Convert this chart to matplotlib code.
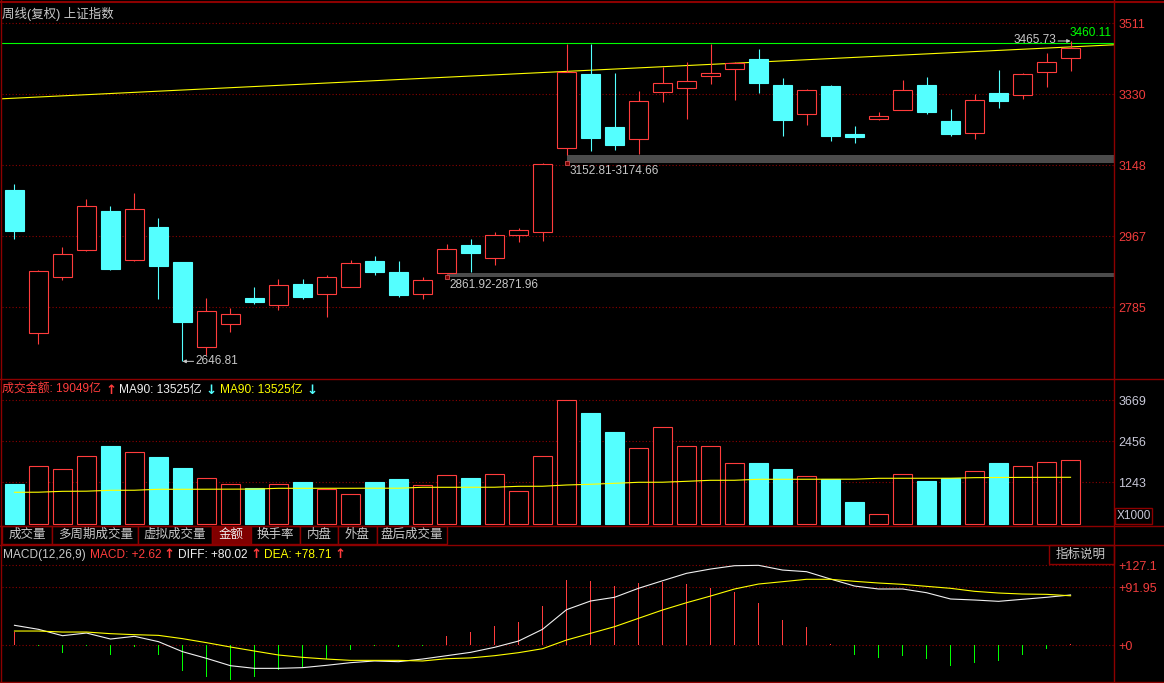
#!/usr/bin/env python3
"""
Weekly K-line of the Shanghai Composite (上证指数), terminal style:
candles + unfilled gap bands, turnover bars with MA90, and MACD(12,26,9).

Output: out.png (1164x683)
"""

import matplotlib
matplotlib.use('Agg')
import matplotlib.pyplot as plt
from matplotlib.patches import Rectangle
from matplotlib.lines import Line2D
import numpy as np

# ---------------------------------------------------------------------------
# Data (weekly bars, oldest first)
# ---------------------------------------------------------------------------
OPEN = [3085, 2720, 2863, 2931, 3031, 2905, 2990, 2901, 2683, 2743,
        2809, 2790, 2845, 2818, 2836, 2903, 2875, 2820, 2872, 2944,
        2912, 2971, 2977, 3191, 3381, 3246, 3215, 3336, 3346, 3377,
        3395, 3420, 3353, 3280, 3351, 3228, 3267, 3290, 3353, 3261,
        3231, 3333, 3328, 3387, 3423]
HIGH = [3100, 2881, 2939, 3062, 3044, 3077, 3013, 2901, 2809, 2783,
        2837, 2857, 2857, 2868, 2906, 2916, 2903, 2861.92, 2947, 2960,
        2978, 2988, 3152.81, 3458, 3458, 3384, 3338, 3398, 3412, 3458,
        3412, 3445, 3371, 3344, 3353, 3248, 3284, 3366, 3374, 3292,
        3330, 3392, 3384, 3435, 3465.73]
LOW = [2960, 2690, 2856, 2930, 2881, 2904, 2805, 2646.81, 2663, 2723,
       2794, 2779, 2807, 2761, 2836, 2868, 2812, 2807, 2871.96, 2875,
       2894, 2953, 2955, 3174.66, 3185, 3188, 3177, 3311, 3267, 3357,
       3316, 3334, 3224, 3252, 3211, 3206, 3265, 3290, 3280, 3224,
       3214, 3295, 3318, 3349, 3390]
CLOSE = [2981, 2878, 2921, 3044, 2884, 3036, 2891, 2748, 2775, 2767,
         2799, 2841, 2812, 2862, 2898, 2874, 2817, 2855, 2934, 2925,
         2969, 2982, 3152, 3386, 3219, 3201, 3312, 3358, 3363, 3383,
         3409, 3359, 3265, 3340, 3224, 3221, 3273, 3340, 3283, 3229,
         3315, 3313, 3381, 3412, 3447]

TREND_LINE = [3318, 3456]        # yellow trend line, left edge -> right edge
LAST_PRICE = 3460.11             # green horizontal line

# turnover (x1000) and its MA90
TURNOVER = [1192, 1725, 1627, 2021, 2317, 2130, 1991, 1666, 1361, 1184,
            1065, 1184, 1252, 1036, 888, 1252, 1340, 1154, 1450, 1370,
            1480, 976, 2012, 3669, 3293, 2731, 2249, 2870, 2308, 2308,
            1805, 1814, 1636, 1429, 1332, 660, 305, 1488, 1281, 1361,
            1568, 1814, 1725, 1835, 1905]
TURNOVER_MA = [947, 950, 976, 980, 1006, 1008, 1036, 1036, 1038, 1040,
               1042, 1065, 1065, 1066, 1066, 1068, 1068, 1095, 1095, 1096,
               1097, 1124, 1126, 1163, 1184, 1213, 1243, 1245, 1272, 1302,
               1303, 1332, 1332, 1333, 1334, 1335, 1361, 1362, 1362, 1363,
               1380, 1385, 1388, 1390, 1391]

# MACD(12,26,9)
DIFF = [31.8, 25.4, 15.3, 19.5, 10, 14.3, 5.8, -10.1, -20.7, -32.4,
        -36.6, -36.6, -35.5, -31.8, -27.6, -24.9, -26, -21.8, -16.5, -11.2,
        -3.2, 6.8, 25.4, 56.6, 70.4, 76.3, 90.6, 102.6, 114.4, 121.2,
        126.5, 127.1, 119.6, 117, 105.3, 94.2, 89.5, 89.5, 83.6, 73.6,
        72, 69.9, 73.1, 76.3, 80.02]
DEA = [22.7, 22.7, 21.1, 21.1, 18.5, 16.9, 15.8, 10.6, 4.2, -2.7,
       -9.1, -15.4, -19.1, -21.8, -23.9, -23.9, -23.9, -24.9, -21.3, -20,
       -16.5, -11.7, -5.4, 8.4, 19, 29.6, 42.9, 56.1, 67.7, 78.3,
       89.5, 97.4, 101.1, 104.9, 104.9, 101.7, 99, 96.9, 93.7, 90.6,
       85.8, 83.1, 81.5, 81, 78.71]
MACD = [21.6, -1.5, -12.2, -1.5, -14.9, -2.6, -14.9, -40.3, -49.9, -55.1,
        -49.9, -39.2, -34, -21.8, -7.5, -1.5, -3, -1.5, 14.8, 21.1,
        30.7, 37, 62.4, 103.7, 102.2, 94.2, 99, 101.1, 97.4, 91.5,
        85.2, 67.7, 40.2, 29.1, 2, -15.4, -19.7, -16.5, -21.3, -32.9,
        -28.1, -24.9, -15.4, -5.9, 2.62]

PRICE_TICKS = [2785, 2967, 3148, 3330, 3511]
TURNOVER_TICKS = [1243, 2456, 3669]
MACD_TICKS = [0, 91.95, 127.1]
MACD_TICK_LABELS = ['+0', '+91.95', '+127.1']

TABS = ['成交量', '多周期成交量', '虚拟成交量', '金额', '换手率', '内盘', '外盘', '盘后成交量']

# ---------------------------------------------------------------------------
# Style
# ---------------------------------------------------------------------------
W, H = 1164, 683
BG = '#000000'
RED = '#ff3c3c'
CYAN = '#54ffff'
GRID = '#8c0000'
BORDER = '#8c0000'
YELLOW = '#ffff00'
GREEN = '#00ff00'
TEXT = '#c8c8c8'
WHITE = '#f0f0f0'
AXIS_RED = '#f03c3c'
BAND = '#4b4b4b'
TAB_ACTIVE = '#800000'
LW = 0.8
BW = 0.78          # body / bar width in bar units
FS = 9
HFS = 8.6          # header line font size
PX = 1 / 24        # one pixel in bar units

plt.rcParams['font.family'] = ['Liberation Sans', 'Noto Sans CJK SC', 'DejaVu Sans']


def fx(x):
    return x / W


def fy(y):
    return 1 - y / H


def panel(fig, y0, y1, ylim, ticks, labels, label_color):
    ax = fig.add_axes([fx(2), fy(y1), fx(1112), (y1 - y0) / H])
    ax.set_facecolor(BG)
    ax.set_xlim(-0.52, 45.81)
    ax.set_ylim(*ylim)
    for s in ax.spines.values():
        s.set_visible(False)
    ax.set_xticks([])
    ax.yaxis.tick_right()
    ax.set_yticks(ticks)
    ax.set_yticklabels(labels)
    ax.tick_params(axis='y', length=0, pad=3, labelsize=FS, labelcolor=label_color)
    for t in ticks:
        ax.axhline(t, color=GRID, lw=LW, ls=(0, (1, 2)), zorder=0)
    return ax


def header(fig, y, parts):
    """Header line made of coloured pieces; arrows drawn as bold glyphs."""
    for x, s, col in parts:
        if s in ('↑', '↓'):
            fig.text(fx(x), fy(y), s, fontsize=9.5, color=col, ha='left',
                     va='center', family=['DejaVu Sans'], fontweight='bold')
        else:
            fig.text(fx(x), fy(y), s, fontsize=HFS, color=col,
                     ha='left', va='center')


def fig_hline(fig, y, x0=0, x1=W, lw=1.0, color=BORDER):
    fig.add_artist(Line2D([fx(x0), fx(x1)], [fy(y), fy(y)], color=color, lw=lw))


def fig_vline(fig, x, y0, y1, lw=1.0, color=BORDER):
    fig.add_artist(Line2D([fx(x), fx(x)], [fy(y0), fy(y1)], color=color, lw=lw))


def main():
    idx = np.arange(len(OPEN))
    fig = plt.figure(figsize=(W / 100, H / 100), dpi=100, facecolor=BG)

    # -----------------------------------------------------------------------
    # Price panel
    # -----------------------------------------------------------------------
    ax = panel(fig, 2, 379.5, (2600.4, 3565.4), PRICE_TICKS,
               [str(t) for t in PRICE_TICKS], AXIS_RED)

    # upward gaps that no later bar has filled
    xr = ax.get_xlim()[1]
    for k in range(1, len(OPEN)):
        lo, hi = HIGH[k - 1], min(LOW[k:])
        if hi > lo and LOW[k] > HIGH[k - 1]:
            ax.add_patch(Rectangle((k, lo), xr - k, hi - lo, facecolor=BAND,
                                   edgecolor='none', zorder=1))
            ax.plot([k], [lo], marker='s', ms=2.5, mfc='#800000',
                    mec='#d05050', mew=0.6, zorder=5)
            ax.annotate(f'{lo:.2f}-{hi:.2f}', xy=(k, lo), xytext=(2, -1),
                        textcoords='offset points', ha='left', va='top',
                        fontsize=8.5, color=TEXT, zorder=5)

    ax.plot(ax.get_xlim(), TREND_LINE, color=YELLOW, lw=LW, zorder=2)
    ax.axhline(LAST_PRICE, color=GREEN, lw=LW, zorder=2)
    ax.annotate(f'{LAST_PRICE:.2f}', xy=(1.0, LAST_PRICE),
                xycoords=('axes fraction', 'data'), xytext=(-1.5, 3),
                textcoords='offset points', ha='right', va='bottom',
                fontsize=8.5, color=GREEN)

    for i in idx:
        o, h, l, c = OPEN[i], HIGH[i], LOW[i], CLOSE[i]
        if c >= o:
            ax.vlines(i, c, h, color=RED, lw=LW, zorder=3)
            ax.vlines(i, l, o, color=RED, lw=LW, zorder=3)
            ax.add_patch(Rectangle((i - BW / 2, o), BW, max(c - o, 1.5),
                                   facecolor=BG, edgecolor=RED, lw=LW, zorder=3))
        else:
            ax.vlines(i, l, h, color=CYAN, lw=LW, zorder=3)
            ax.add_patch(Rectangle((i - BW / 2, c), BW, o - c, facecolor=CYAN,
                                   edgecolor=CYAN, lw=LW, zorder=3))

    # extreme marks
    i_hi = int(np.argmax(HIGH))
    ax.annotate('', xy=(i_hi, HIGH[i_hi]), xytext=(-9, 0),
                textcoords='offset points',
                arrowprops=dict(arrowstyle='-|>', color=TEXT, lw=0.7,
                                mutation_scale=5, shrinkA=0, shrinkB=0))
    ax.annotate(f'{HIGH[i_hi]:.2f}', xy=(i_hi, HIGH[i_hi]), xytext=(-10, 0.5),
                textcoords='offset points', ha='right', va='center',
                fontsize=8.5, color=TEXT)
    i_lo = int(np.argmin(LOW))
    ax.annotate('', xy=(i_lo, LOW[i_lo]), xytext=(8, 0),
                textcoords='offset points',
                arrowprops=dict(arrowstyle='-|>', color=TEXT, lw=0.7,
                                mutation_scale=5, shrinkA=0, shrinkB=0))
    ax.annotate(f'{LOW[i_lo]:.2f}', xy=(i_lo, LOW[i_lo]), xytext=(9.5, 0),
                textcoords='offset points', ha='left', va='center',
                fontsize=8.5, color=TEXT)

    fig.text(fx(2.5), fy(13.5), '周线(复权) 上证指数', fontsize=FS,
             color=TEXT, ha='left', va='center')

    # -----------------------------------------------------------------------
    # Turnover panel
    # -----------------------------------------------------------------------
    axv = panel(fig, 379.5, 525.5, (-35.5, 4284.6), TURNOVER_TICKS,
                [str(t) for t in TURNOVER_TICKS], '#c8c8d8')
    up = [CLOSE[i] >= OPEN[i] for i in idx]
    axv.bar(idx, TURNOVER, width=BW,
            color=[BG if u else CYAN for u in up],
            edgecolor=[RED if u else CYAN for u in up], lw=LW, zorder=2)
    axv.plot(idx, TURNOVER_MA, color=YELLOW, lw=LW, zorder=3)

    header(fig, 390, [(2.5, '成交金额: 19049亿', RED), (105.5, '↑', RED),
                      (119, 'MA90: 13525亿', WHITE), (205, '↓', CYAN),
                      (220, 'MA90: 13525亿', YELLOW), (306, '↓', CYAN)])

    fig.text(fx(1133.5), fy(516), 'X1000', fontsize=8.5, color='#c8c8d8',
             ha='center', va='center',
             bbox=dict(boxstyle='square,pad=0.15', facecolor=BG,
                       edgecolor=BORDER, lw=1))

    # tab strip
    edges = [2, 52.3, 138.3, 212, 250.7, 300, 338.3, 376.7, 446.7]
    for k, name in enumerate(TABS):
        x0, x1 = edges[k], edges[k + 1]
        fig.add_artist(Rectangle((fx(x0), fy(544)), fx(x1 - x0), 18.3 / H,
                                 facecolor=TAB_ACTIVE if name == '金额' else BG,
                                 edgecolor=BORDER, lw=1))
        fig.text(fx((x0 + x1) / 2), fy(535), name, fontsize=FS,
                 color=WHITE if name == '金额' else TEXT,
                 ha='center', va='center')

    # -----------------------------------------------------------------------
    # MACD panel
    # -----------------------------------------------------------------------
    axm = panel(fig, 544.5, 681.5, (-57.5, 160.2), MACD_TICKS,
                MACD_TICK_LABELS, AXIS_RED)
    axm.bar(idx, MACD, width=1.2 * PX, bottom=0,
            color=[RED if m >= 0 else GREEN for m in MACD],
            linewidth=0, antialiased=False, zorder=2)
    axm.plot(idx, DIFF, color=WHITE, lw=LW, zorder=3)
    axm.plot(idx, DEA, color=YELLOW, lw=LW, zorder=3)

    header(fig, 555, [(2.5, 'MACD(12,26,9)', TEXT), (90, 'MACD: +2.62', RED),
                      (163, '↑', RED), (177.5, 'DIFF: +80.02', WHITE),
                      (250, '↑', RED), (264, 'DEA: +78.71', YELLOW),
                      (334.5, '↑', RED)])

    fig.add_artist(Rectangle((fx(1048.5), fy(564.3)), fx(65.2), 19.3 / H,
                             facecolor=BG, edgecolor=BORDER, lw=1))
    fig.text(fx(1081), fy(554.5), '指标说明', fontsize=FS, color=TEXT,
             ha='center', va='center')

    # -----------------------------------------------------------------------
    # Frame lines
    # -----------------------------------------------------------------------
    fig_hline(fig, 1.5, lw=1.5)
    fig_hline(fig, 379.5)
    fig_hline(fig, 525.5)
    fig_hline(fig, 544.5)
    fig_hline(fig, 681.5)
    fig_vline(fig, 1.0, 0, 683)
    fig_vline(fig, 1114.3, 0, 681.5)

    fig.savefig('out.png', dpi=100, facecolor=BG)
    plt.close(fig)


if __name__ == '__main__':
    main()
